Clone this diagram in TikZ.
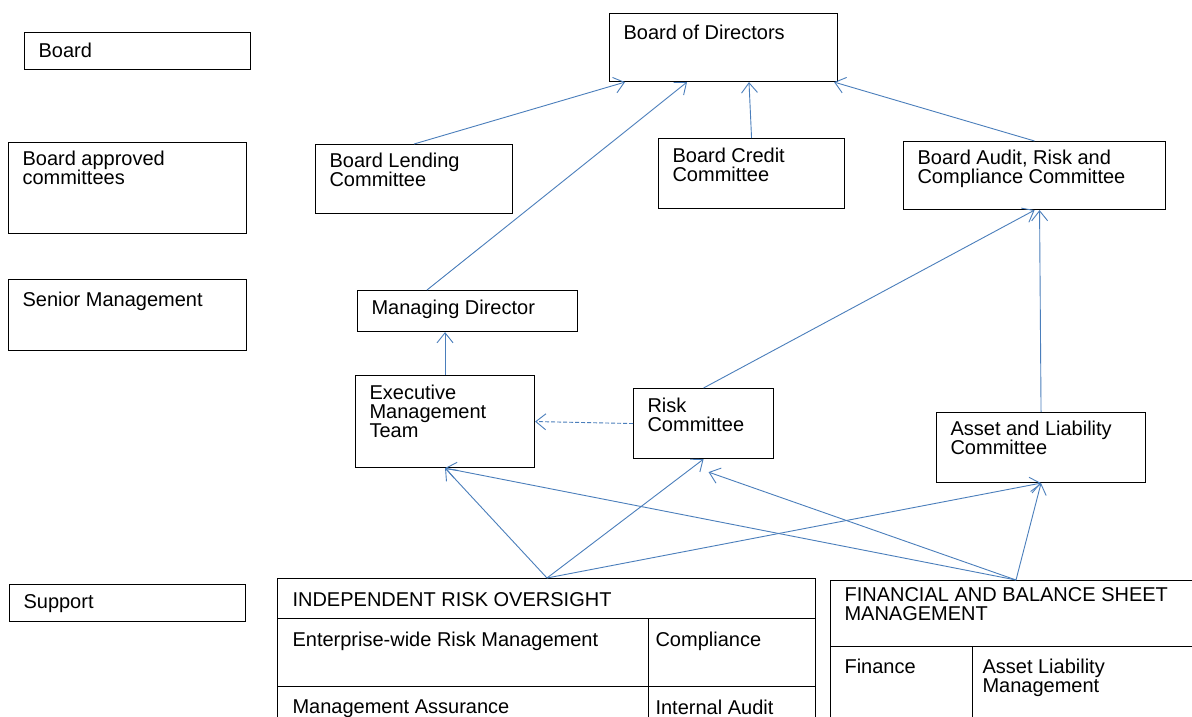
\documentclass[tikz,border=0pt]{standalone}
\usepackage{fontspec}
\setmainfont{Liberation Sans}
\usetikzlibrary{arrows.meta}
\definecolor{linkblue}{RGB}{74, 126, 187}

% text block of fixed size inside a box: width, height, text
\newcommand{\unittext}[3]{\parbox[t][#2pt][t]{#1pt}{\lineskiplimit=-20pt #3}}

\tikzset{
  unit/.style={draw, line width=1.1pt, anchor=north west,
    inner xsep=14pt, inner ysep=9pt,
    font=\fontsize{20}{19}\selectfont},
  link/.style={draw=linkblue, line width=0.9pt,
    -{Straight Barb[length=10pt, width=16pt]}},
}

\begin{document}
\begin{tikzpicture}[x=1pt, y=-1pt]
\useasboundingbox (0,0) rectangle (1192,717);
\fill[white] (0,0) rectangle (1192,717);
\clip (0,0) rectangle (1192,717);

% levels on the left
\node[unit, inner ysep=10pt] (board) at (24,32) {\unittext{198}{17}{Board}};
\node[unit, inner ysep=8pt] (approved) at (8,142) {\unittext{210}{75}{Board approved\\committees}};
\node[unit, inner ysep=12pt] (senior) at (8,279) {\unittext{210}{47}{Senior Management}};
\node[unit, inner ysep=10pt] (support) at (9,584) {\unittext{208}{17}{Support}};

% board and its committees
\node[unit, inner ysep=11pt] (bod) at (609,13) {\unittext{200}{46}{Board of Directors}};
\node[unit, inner ysep=8pt] (lending) at (315,144) {\unittext{169}{53}{Board Lending\\Committee}};
\node[unit] (credit) at (658,138) {\unittext{158}{52}{Board Credit\\Committee}};
\node[unit, inner ysep=8pt] (audit) at (903,141) {\unittext{234}{52}{Board Audit, Risk and\\Compliance Committee}};

% management
\node[unit] (md) at (357,290) {\unittext{192}{23}{Managing Director}};
\node[unit] (exec) at (355,375) {\unittext{151}{74}{Executive\\Management\\Team}};
\node[unit] (risk) at (633,388) {\unittext{112}{52}{Risk\\Committee}};
\node[unit, inner ysep=8pt] (alco) at (936,412) {\unittext{181}{54}{Asset and Liability\\Committee}};

% support functions (run off the bottom edge)
\node[unit, inner xsep=15pt, inner ysep=10pt] (iro) at (277,578) {\unittext{508}{20}{\vspace*{4pt}INDEPENDENT RISK OVERSIGHT}};
\node[unit, inner xsep=15pt, inner ysep=13pt] (erm) at (277,618) {\unittext{341}{42}{Enterprise-wide Risk Management}};
\node[unit, inner xsep=7pt, inner ysep=13pt] (comp) at (648,618) {\unittext{153}{42}{Compliance}};
\node[unit, inner xsep=15pt, inner ysep=13pt] (assur) at (277,686) {\unittext{341}{34}{Management Assurance}};
\node[unit, inner xsep=7pt, inner ysep=13pt] (intaudit) at (648,686) {\unittext{153}{34}{Internal Audit}};

\node[unit, inner ysep=7pt] (fbs) at (830,580) {\unittext{352}{52}{FINANCIAL AND BALANCE SHEET\\MANAGEMENT}};
\node[unit, inner ysep=12pt] (fin) at (830,646) {\unittext{114}{76}{Finance}};
\node[unit, inner xsep=10pt, inner ysep=12pt] (alm) at (972,646) {\unittext{218}{76}{Asset Liability\\Management}};

% reporting lines
\draw[link] (lending.north) -- ([xshift=16pt]bod.south west);
\draw[link] ([xshift=70pt]md.north west) -- ([xshift=78pt]bod.south west);
\draw[link] (credit.north) -- ([xshift=140pt]bod.south west);
\draw[link] (audit.north) -- ([xshift=-4pt]bod.south east);
\draw[link] (risk.north) -- (audit.south);
\draw[link] (alco.north) -- ([xshift=5pt]audit.south);
\draw[link] (exec.north) -- (exec.north |- md.south);
\draw[link, dash pattern=on 4pt off 2pt] (risk.west) -- (exec.east);

% support feeds
\coordinate (iro top) at ([xshift=270pt]iro.north west);
\coordinate (fbs top) at ([xshift=186pt]fbs.north west);
\coordinate (risk below) at ([xshift=5pt, yshift=-13pt]risk.south);
\foreach \dst in {exec.south, risk.south, alco.south}
  \draw[link] (iro top) -- (\dst);
\foreach \dst in {exec.south, risk below, alco.south}
  \draw[link] (fbs top) -- (\dst);

\end{tikzpicture}
\end{document}
